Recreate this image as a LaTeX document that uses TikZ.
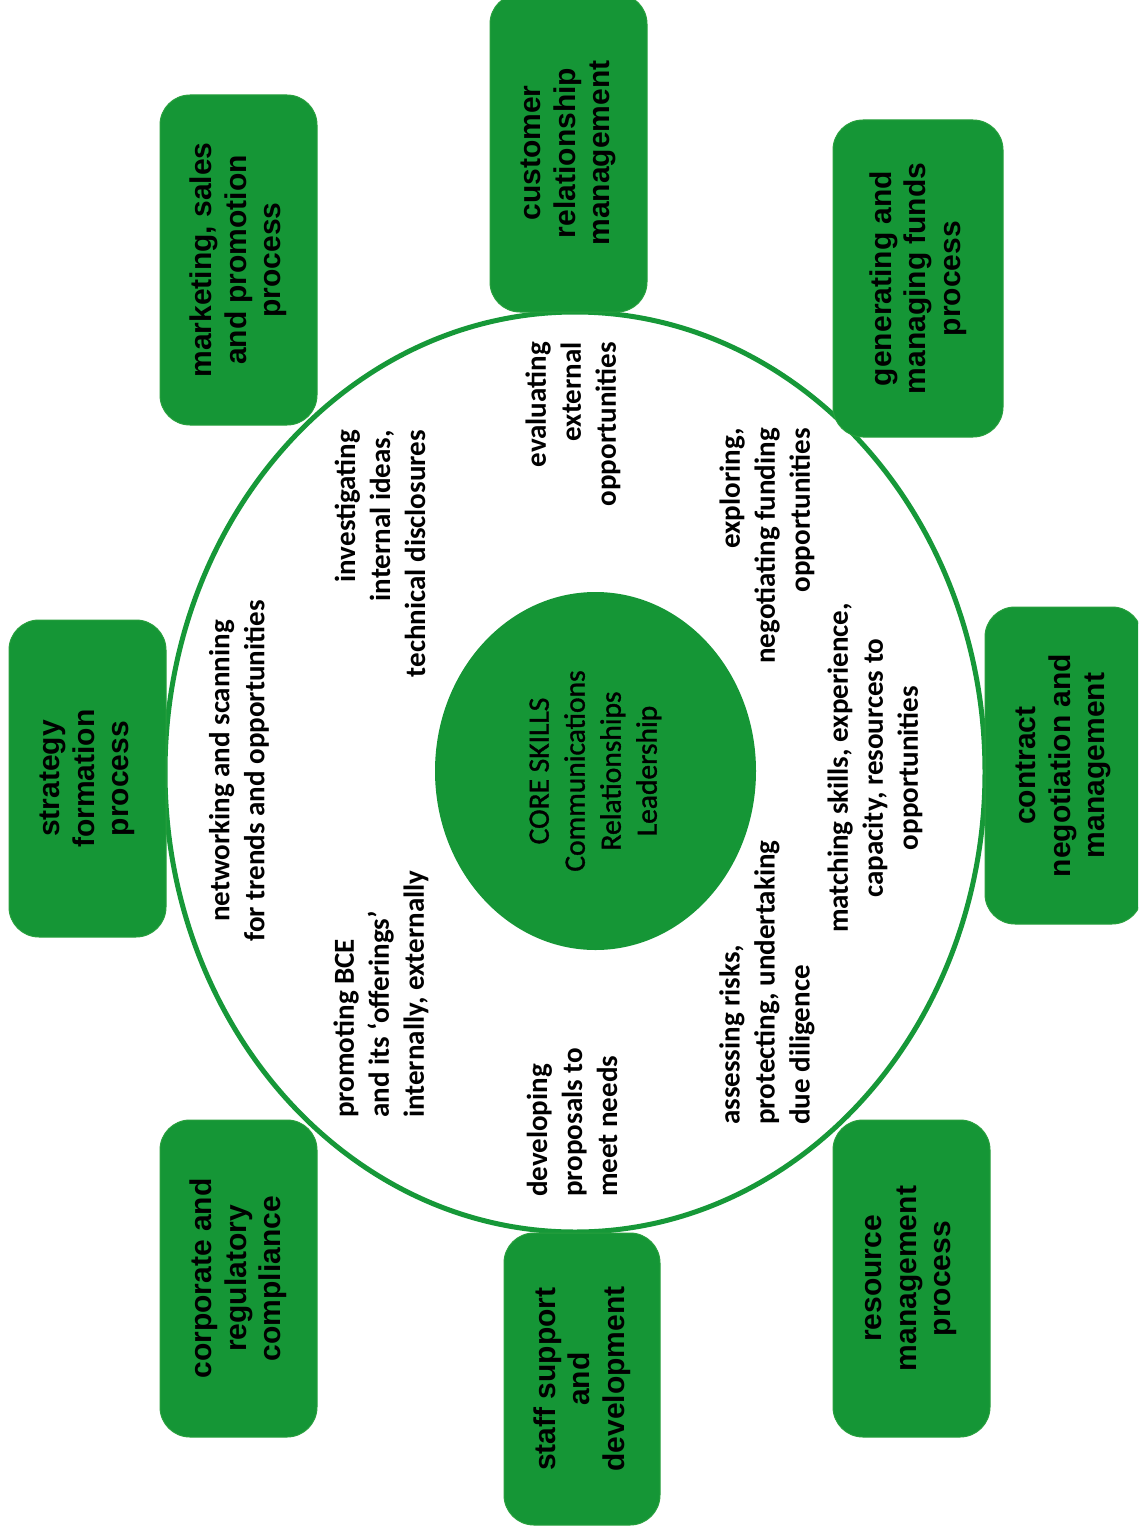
\documentclass[tikz,border=0pt]{standalone}
\usepackage{fontspec}
\usetikzlibrary{shapes.geometric}
\newfontfamily\boxfont{Liberation Sans}
\newfontfamily\innerfont{Carlito}
\newfontfamily\corefont{Carlito}[FakeBold=1.2]
\definecolor{boxgreen}{RGB}{21,150,54}
\definecolor{edgegreen}{RGB}{40,160,62}
\definecolor{linegreen}{RGB}{22,152,56}
\begin{document}
\begin{tikzpicture}[x=1pt,y=-1pt,
  procbox/.style={rectangle, rounded corners=30pt, fill=boxgreen, draw=edgegreen, line width=1pt,
    rotate=90, align=center, inner sep=0pt,
    font=\boxfont\bfseries\fontsize{30}{34.5}\selectfont},
  innertext/.style={rotate=90, inner sep=0pt,
    font=\innerfont\bfseries\fontsize{29}{35}\selectfont},
]
\useasboundingbox (0,0) rectangle (1138,1533);
\clip (0,0) rectangle (1138,1533);
\fill[white] (0,0) rectangle (1138,1533);

% outer ring
\node[ellipse, draw=linegreen, line width=5pt, fill=white, inner sep=0pt,
  minimum width=820pt, minimum height=920pt] (ring) at (575,772) {};

% core
\node[ellipse, rotate=90, fill=boxgreen, inner sep=0pt, align=center,
  minimum width=358pt, minimum height=321pt,
  font=\corefont\fontsize{29.5}{36}\selectfont] (core) at (595.5,771)
  {CORE SKILLS\\Communications\\Relationships\\Leadership};

% process boxes (minimum width = vertical extent, minimum height = horizontal extent)
\node[procbox, minimum width=318pt, minimum height=157pt] (crm) at (568.5,153)
  {customer\\relationship\\management};
\node[procbox, minimum width=330pt, minimum height=157pt] (msp) at (238.5,260)
  {marketing, sales\\and promotion\\process};
\node[procbox, minimum width=317pt, minimum height=170pt] (gmf) at (918,278.5)
  {generating and\\managing funds\\process};
\node[procbox, minimum width=317pt, minimum height=157pt] (sfp) at (87.5,778.5)
  {strategy\\formation\\process};
\node[procbox, minimum width=317pt, minimum height=157pt] (cnm) at (1063.5,765.5)
  {contract\\negotiation and\\management};
\node[procbox, minimum width=317pt, minimum height=157pt] (crc) at (238.5,1278.5)
  {corporate and\\regulatory\\compliance};
\node[procbox, minimum width=292pt, minimum height=156pt] (ssd) at (582,1379)
  {staff support\\and\\development};
\node[procbox, minimum width=317pt, minimum height=157pt] (rmp) at (911.5,1278.5)
  {resource\\management\\process};

% activity texts
\node[innertext, align=center] (net) at (239,771)
  {networking and scanning\\for trends and opportunities};
\node[innertext, align=right, anchor=east] (inv) at (380,430)
  {investigating\\internal ideas,\\technical disclosures};
\node[innertext, align=right, anchor=east] (eva) at (573,342)
  {evaluating\\external\\opportunities};
\node[innertext, align=right, anchor=east] (exp) at (767,428)
  {exploring,\\negotiating funding\\opportunities};
\node[innertext, align=center] (mat) at (875,768)
  {matching skills, experience,\\capacity, resources to\\opportunities};
\node[innertext, align=left, anchor=west] (ass) at (767,1125)
  {assessing risks,\\protecting, undertaking\\due diligence};
\node[innertext, align=left, anchor=west] (dev) at (572,1197)
  {developing\\proposals to\\meet needs};
\node[innertext, align=left, anchor=west] (pro) at (381,1118)
  {promoting BCE\\and its ‘offerings’\\internally, externally};
\end{tikzpicture}
\end{document}
